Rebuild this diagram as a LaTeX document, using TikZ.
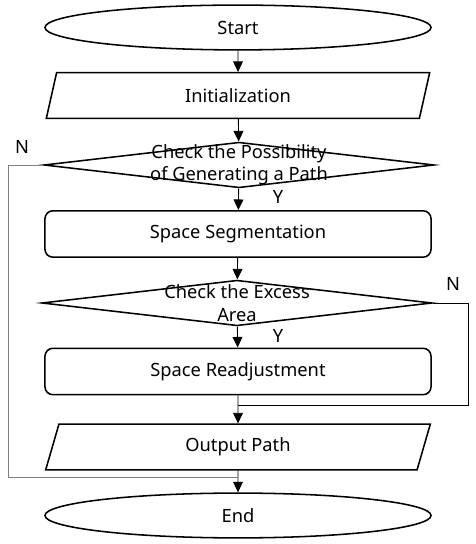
\documentclass[tikz,border=0pt]{standalone}
\usepackage{fontspec}
\setmainfont{Noto Sans}
\usepackage{tikz}
\usetikzlibrary{arrows.meta, shapes.geometric, positioning, calc}

\begin{document}
\begin{tikzpicture}[x=0.025cm, y=0.025cm,
	every node/.append style={font=\fontsize{13pt}{16pt}\selectfont, align=center},
	term/.style={shape=ellipse, draw, line width=1.1pt, minimum width=9.65cm, minimum height=1.12cm, inner sep=0pt},
	io/.style={shape=trapezium, trapezium left angle=78, trapezium right angle=102, trapezium stretches=true, draw, line width=1.1pt, minimum width=9.65cm, minimum height=1.14cm, inner sep=0pt},
	proc/.style={shape=rectangle, rounded corners=0.2cm, draw, line width=1.1pt, minimum width=9.65cm, minimum height=1.16cm, inner sep=0pt},
	decision/.style={shape=diamond, draw, line width=1.1pt, minimum width=9.75cm, minimum height=1.14cm, inner sep=0pt},
	arr/.style={-{Triangle[length=7.5pt, width=7pt]}, line width=0.6pt},
	loopline/.style={line width=0.7pt}]
	\useasboundingbox (0,0) rectangle (475,544);
	\node[term] at (238,516.5) (start) {Start};
	\node[io] at (238,448.5) (init) {Initialization};
	\node[decision, label={[align=center]center:Check the Possibility\\of Generating a Path}] at (239,379) (chk1) {};
	\node[proc] at (238,310) (seg) {Space Segmentation};
	\node[decision, label={[align=center]center:Check the Excess\\Area}] at (237,241) (chk2) {};
	\node[proc] at (238,172.5) (readj) {Space Readjustment};
	\node[io] at (238,97) (out) {Output Path};
	\node[term] at (238,28.5) (end) {End};
		\foreach \a/\b in {start/init, init/chk1, chk1/seg, seg/chk2, chk2/readj, readj/out, out/end}
			\draw[arr] (\a) -- (\b);
	\coordinate (j1) at (238,67);
	\coordinate (j2) at (238,139);
	\draw[loopline, gray] (chk1.west) -- (8,379) |- (j1);
	\draw[loopline] (chk2.east) -- (468,241) |- (j2);
	\node at (22,397) (n1) {N};
	\node at (278,347) (y1) {Y};
	\node at (453,260) (n2) {N};
	\node at (278,208) (y2) {Y};
\end{tikzpicture}
\end{document}
